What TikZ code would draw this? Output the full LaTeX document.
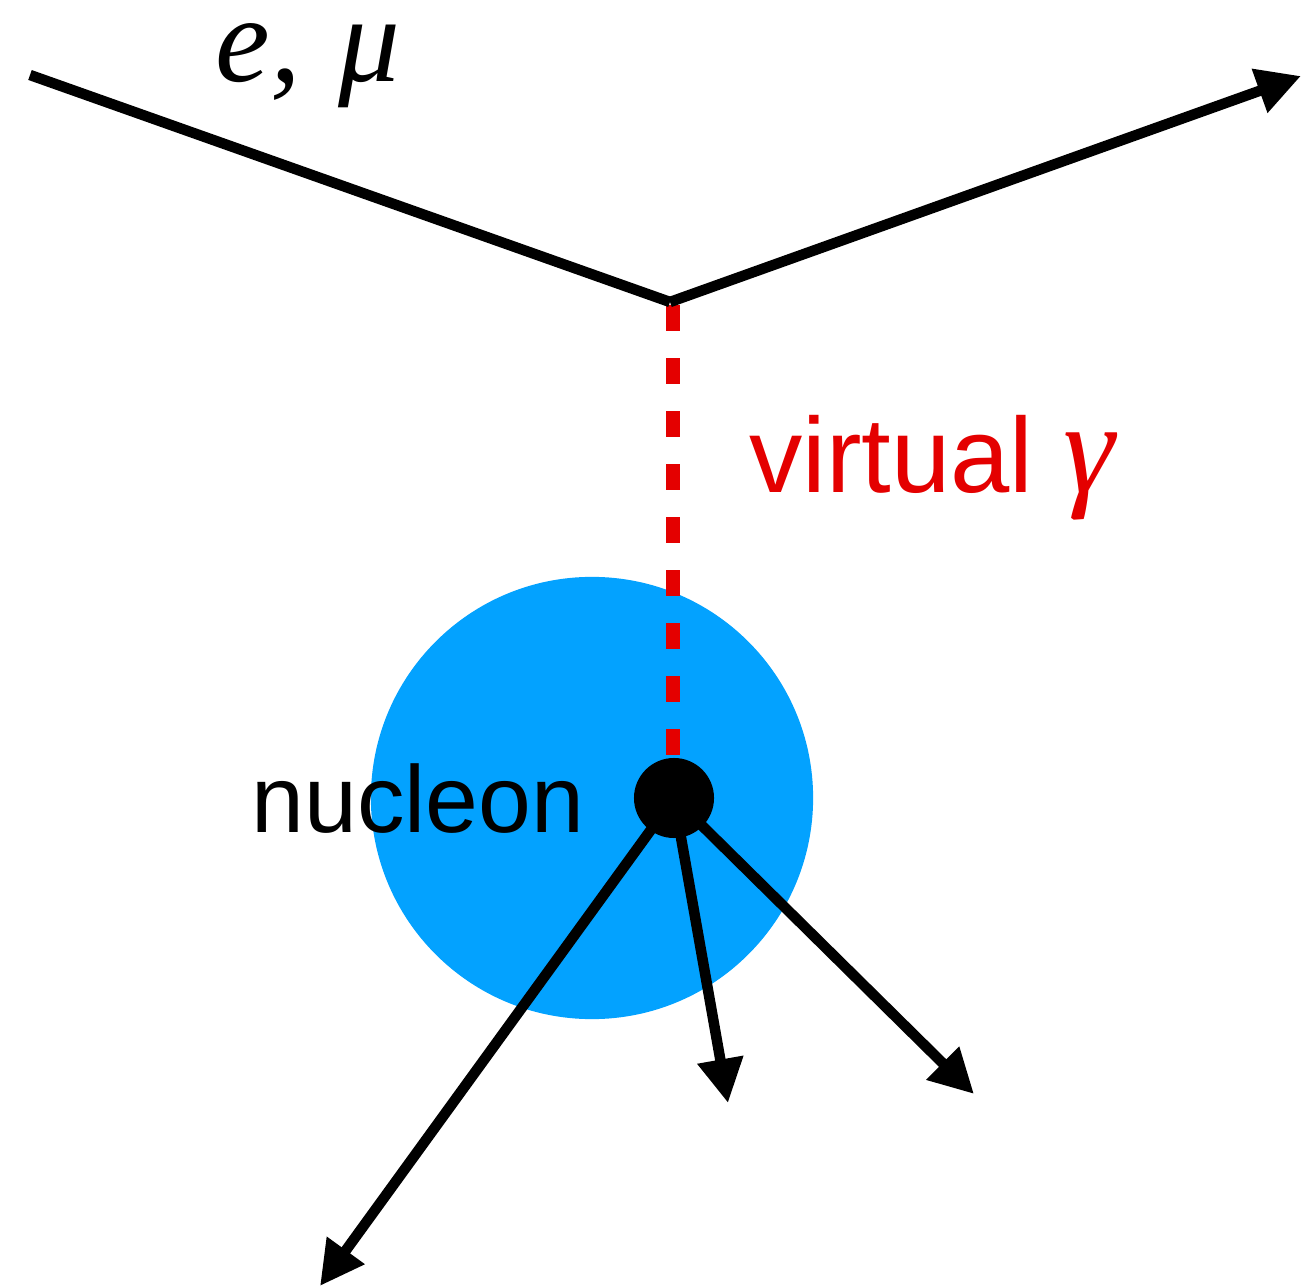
\documentclass[tikz,border=0pt]{standalone}
\usepackage{fontspec}
\setmainfont{Liberation Serif}
\newfontfamily\helv{Liberation Sans}
\usetikzlibrary{arrows.meta}
\definecolor{nucblue}{RGB}{3,162,255}
\definecolor{photred}{RGB}{228,0,0}
\begin{document}
\begin{tikzpicture}[x=0.01cm,y=-0.01cm,
  lepton/.style={line width=1.05mm, line join=miter},
  outarrow/.style={line width=1.05mm, -{Triangle[length=4.4mm,width=4.4mm]}},
  photon/.style={photred, line width=1.4mm, dash pattern=on 2.6mm off 2.7mm},
  lbl/.style={inner sep=0pt, anchor=base}]
\useasboundingbox (0,0) rectangle (1302,1288);
% nucleon
\node[circle, fill=nucblue, minimum size=4.42cm, inner sep=0pt] (nuc) at (592,798) {};
% coordinates
\coordinate (lin) at (30,75);
\coordinate (v) at (670,302);
\coordinate (lout) at (1301,76);
\coordinate (pend) at (673,770);
\coordinate (ptop) at (673,305);
% photon
\draw[photon] (ptop) -- (pend);
% lepton
\draw[lepton] (lin) -- (v);
\draw[outarrow] (v) -- (lout);
% vertex dot
\node[circle, fill=black, minimum size=0.8cm, inner sep=0pt] (dot) at (674,798) {};
% outgoing hadrons
\coordinate (h1) at (320,1286);
\coordinate (h2) at (728,1103);
\coordinate (h3) at (974,1094);
\draw[outarrow] (dot.center) -- (h1);
\draw[outarrow] (dot.center) -- (h2);
\draw[outarrow] (dot.center) -- (h3);
% labels
\node[lbl, text height=0.5cm, font=\fontsize{35}{35}\selectfont\itshape] (lep) at (308,82) {e,\hspace{0.3em}μ};
\node[lbl, text=photred, font=\fontsize{30.3}{30}\helv] (vg) at (932,493) {virtual {\fontsize{37}{37}\rmfamily\itshape γ}};
\node[lbl, font=\fontsize{27}{27}\helv] (nl) at (418,832) {nucleon};
\end{tikzpicture}
\end{document}
